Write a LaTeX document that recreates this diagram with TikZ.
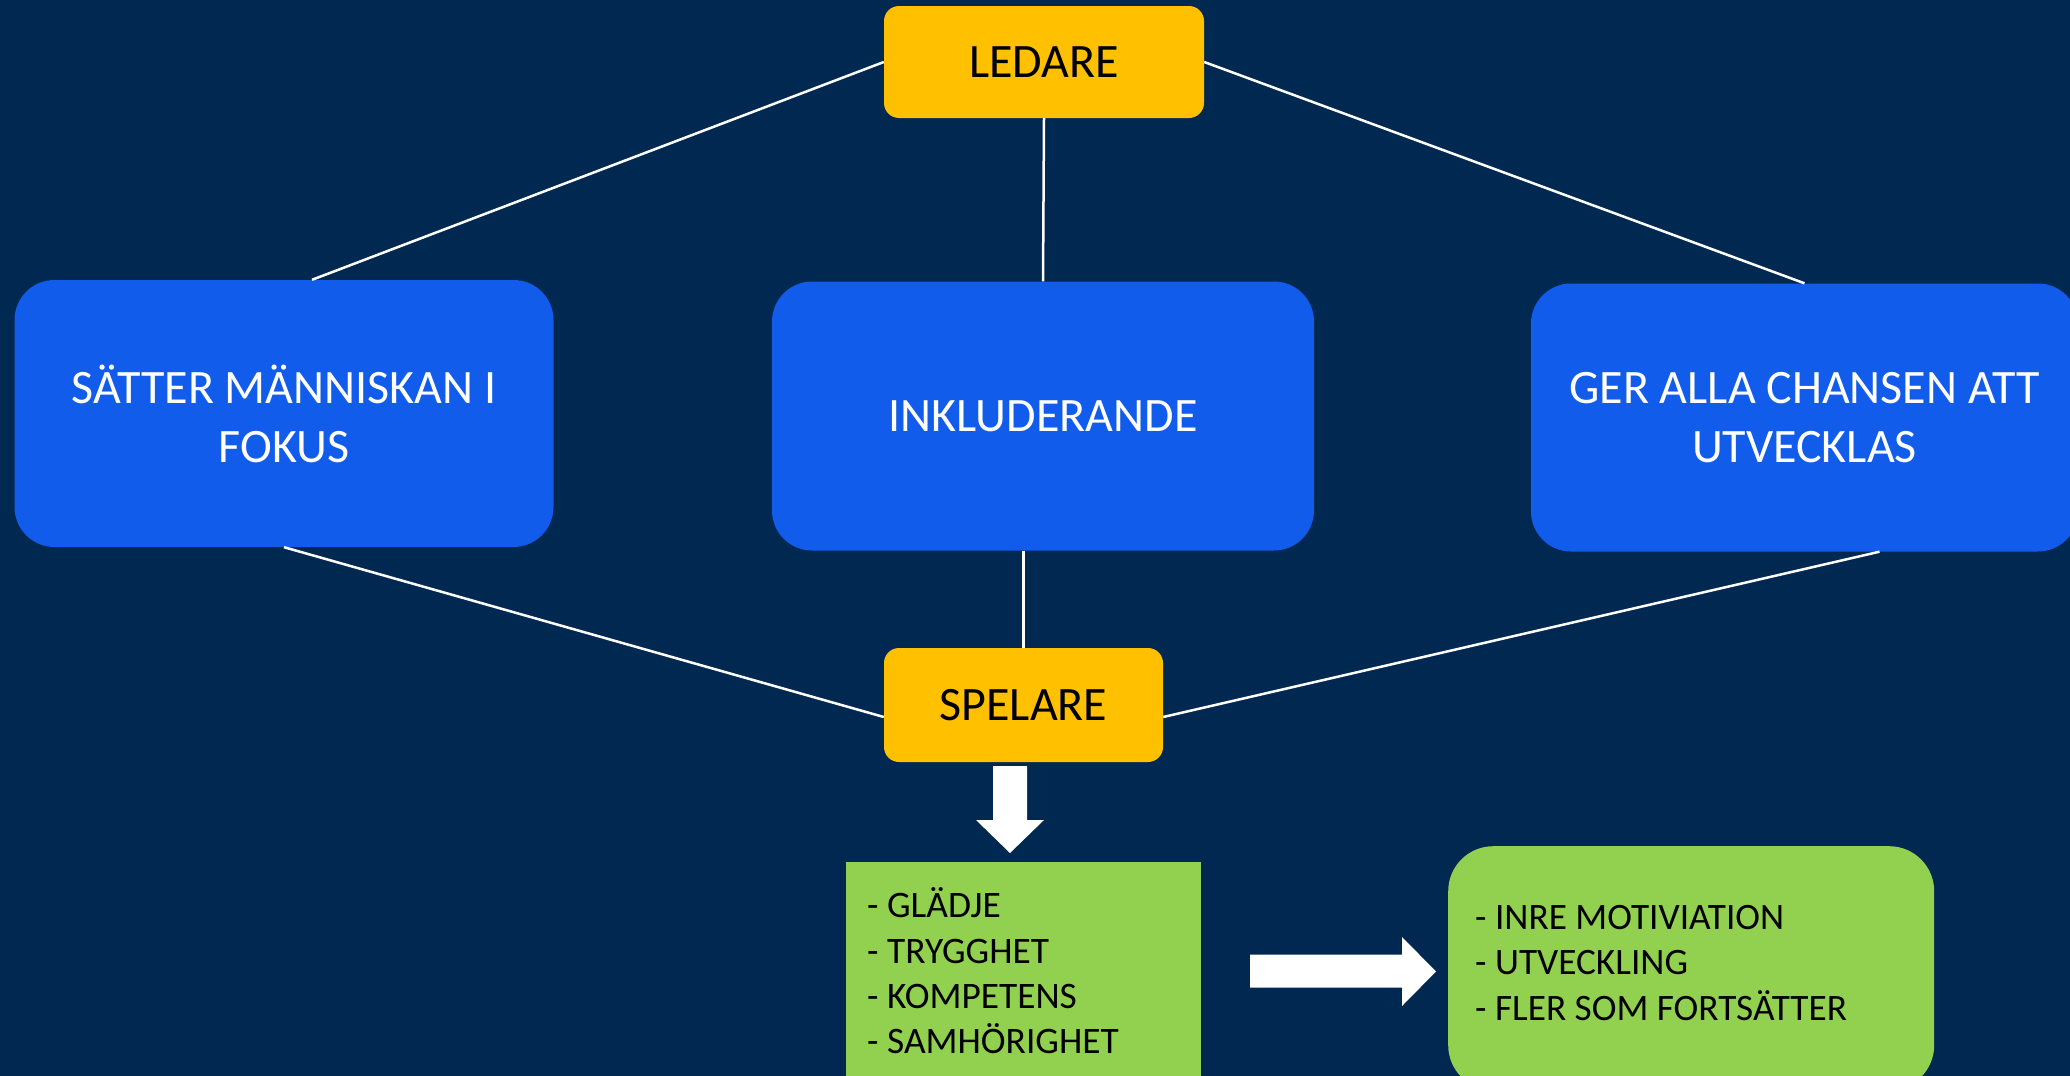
\documentclass[tikz,border=0pt]{standalone}
\usepackage{fontspec}
\setmainfont{Carlito}
\usetikzlibrary{positioning,calc}
\definecolor{navy}{RGB}{0,40,80}
\definecolor{boxblue}{RGB}{17,92,235}
\definecolor{gold}{RGB}{255,192,0}
\definecolor{leaf}{RGB}{146,208,80}

\tikzset{
  rollbox/.style={rounded corners=15pt, fill=gold, text=black, font=\fontsize{48}{58}\selectfont},
  valbox/.style={rounded corners=40pt, fill=boxblue, text=white, align=center, font=\fontsize{48}{59}\selectfont},
  link/.style={draw=white, line width=2.5pt},
  bigarrow/.style={fill=white},
  listtext/.style={align=left, text=black, anchor=west, inner sep=0pt}
}

\begin{document}
\begin{tikzpicture}[x=1pt,y=-1pt]
    % Background
    \fill[navy] (0,0) rectangle (2070,1076);
    \clip (0,0) rectangle (2070,1076);

    % Leader and player
    \node[rollbox, minimum width=320pt, minimum height=112pt] (ledare) at (1044,62) {LEDARE};
    \node[rollbox, minimum width=279pt, minimum height=114pt] (spelare) at (1023.5,705) {SPELARE};

    % Values
    \node[valbox, minimum width=539pt, minimum height=267pt] (fokus) at (284,413.5) {SÄTTER MÄNNISKAN I\\FOKUS};
    \node[valbox, minimum width=542pt, minimum height=269pt] (inkl) at (1043,416) {INKLUDERANDE};
    \node[valbox, minimum width=547pt, minimum height=268pt] (chans) at (1804.5,417.5) {GER ALLA CHANSEN ATT\\UTVECKLAS};

    % Connections
    \draw[link] (ledare.west) -- ([xshift=28pt]fokus.north);
    \draw[link] (ledare.south) -- (inkl.north);
    \draw[link] (ledare.east) -- (chans.north);
    \draw[link] (fokus.south) -- ([yshift=-12pt]spelare.west);
    \draw[link] (inkl.south -| spelare.north) -- (spelare.north);
    \draw[link] ([xshift=75pt]chans.south) -- ([yshift=-12pt]spelare.east);

    % Outcomes
    \node[fill=leaf, minimum width=355pt, minimum height=230pt, anchor=north west] (glad) at (846,862) {};
    \node[listtext, font=\fontsize{37.4}{45.3}\selectfont] (gladtext) at (867,971)
        {- GLÄDJE\\- TRYGGHET\\- KOMPETENS\\- SAMHÖRIGHET};
    \node[fill=leaf, rounded corners=45pt, minimum width=486pt, minimum height=244pt, anchor=north west] (motiv) at (1448,846) {};
    \node[listtext, font=\fontsize{37.3}{45.5}\selectfont] (motivtext) at (1475,963)
        {- INRE MOTIVIATION\\- UTVECKLING\\- FLER SOM FORTSÄTTER};

    % Block arrows
    \fill[bigarrow] (993,766) -- (1027,766) -- (1027,820) -- (1044,820) -- (1010,853)
        -- (976,820) -- (993,820) -- cycle;
    \fill[bigarrow] (1250,954.5) -- (1402,954.5) -- (1402,937) -- (1436,971.5) -- (1402,1006)
        -- (1402,987.5) -- (1250,987.5) -- cycle;
\end{tikzpicture}
\end{document}
